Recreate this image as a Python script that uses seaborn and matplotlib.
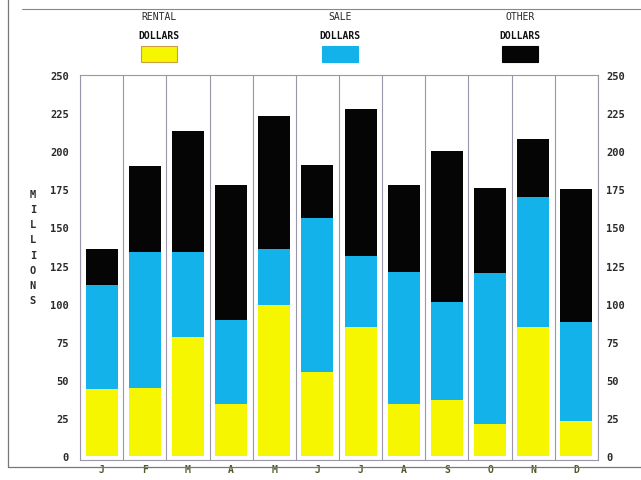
import numpy as np
import pandas as pd
import matplotlib.pyplot as plt
import seaborn as sns
from matplotlib.patches import Rectangle

months = ['J', 'F', 'M', 'A', 'M', 'J', 'J', 'A', 'S', 'O', 'N', 'D']
rental = [44, 45, 78, 34, 99, 55, 85, 34, 37, 21, 85, 23]
sale = [68, 89, 56, 55, 37, 101, 46, 87, 64, 99, 85, 65]
other = [24, 56, 79, 89, 87, 35, 97, 57, 99, 56, 38, 87]

yellow = '#f6f600'
cyan = '#14b2ea'
black = '#050505'

df = pd.DataFrame({'pos': range(12), 'rental': rental, 'sale': sale, 'other': other})
df['sale_top'] = df['rental'] + df['sale']
df['total'] = df['sale_top'] + df['other']

sns.set_style('white')
mono = 'DejaVu Sans Mono'

fig = plt.figure(figsize=(6.41, 4.81), dpi=100)
ax = fig.add_axes([80 / 641, 1 - 461 / 481, 518 / 641, 385 / 481])

# stacked bars: draw tallest first
for col, c in [('total', black), ('sale_top', cyan), ('rental', yellow)]:
    sns.barplot(data=df, x='pos', y=col, color=c, width=0.74, ax=ax,
                native_scale=True, saturation=1, edgecolor='none')

ax.set_xlim(-0.5, 11.5)
ax.set_ylim(-2.5, 250)
for k in range(13):
    ax.axvline(k - 0.5, color='#9a95a8', lw=0.8)
for s in ax.spines.values():
    s.set_color('#9a95a8')
    s.set_linewidth(0.8)

ticks = list(range(0, 251, 25))
ax.set_xticks(range(12))
ax.set_xticklabels(months, family=mono, fontsize=7, color='#4a5a2a', fontweight='bold')
ax.set_yticks(ticks)
ax.set_yticklabels([str(v) for v in ticks], family=mono, fontsize=7.5,
                   color='#2a2a2a', fontweight='bold')
ax.tick_params(axis='both', length=0)
ax.tick_params(axis='y', pad=8)
ax.tick_params(axis='x', pad=3)
ax.set_xlabel('')
ax.set_ylabel('')

ax2 = ax.twinx()
ax2.set_ylim(ax.get_ylim())
ax2.set_yticks(ticks)
ax2.set_yticklabels([str(v) for v in ticks], family=mono, fontsize=7.5,
                    color='#2a2a2a', fontweight='bold')
ax2.tick_params(axis='y', length=0, pad=6)
for s in ax2.spines.values():
    s.set_visible(False)

fig.text(33 / 641, 1 - 248 / 481, 'M\nI\nL\nL\nI\nO\nN\nS', family=mono, fontsize=7.5,
         ha='center', va='center', linespacing=1.65, color='#2a2a2a', fontweight='bold')

# legend
for label, xc, c in [('RENTAL', 159, yellow), ('SALE', 340, cyan), ('OTHER', 520, black)]:
    fig.text(xc / 641, 1 - 17 / 481, label, family=mono, fontsize=7, ha='center',
             va='center', color='#2a2a2a')
    fig.text(xc / 641, 1 - 36 / 481, 'DOLLARS', family=mono, fontsize=7, ha='center',
             va='center', color='#111111', fontweight='bold')
    fig.patches.append(Rectangle(((xc - 18) / 641, 1 - 63 / 481), 36 / 641, 16 / 481,
                                 transform=fig.transFigure, facecolor=c,
                                 edgecolor='#c8a040' if c == yellow else c, lw=0.8))

# outer frame
fig.add_artist(plt.Line2D([8 / 641, 8 / 641], [1 - 468 / 481, 1], color='#777777', lw=0.9))
fig.add_artist(plt.Line2D([8 / 641, 1], [1 - 468 / 481, 1 - 468 / 481], color='#777777', lw=0.9))
fig.add_artist(plt.Line2D([22 / 641, 1], [1 - 10 / 481, 1 - 10 / 481], color='#888888', lw=0.8))

fig.savefig('out.png', dpi=100)
